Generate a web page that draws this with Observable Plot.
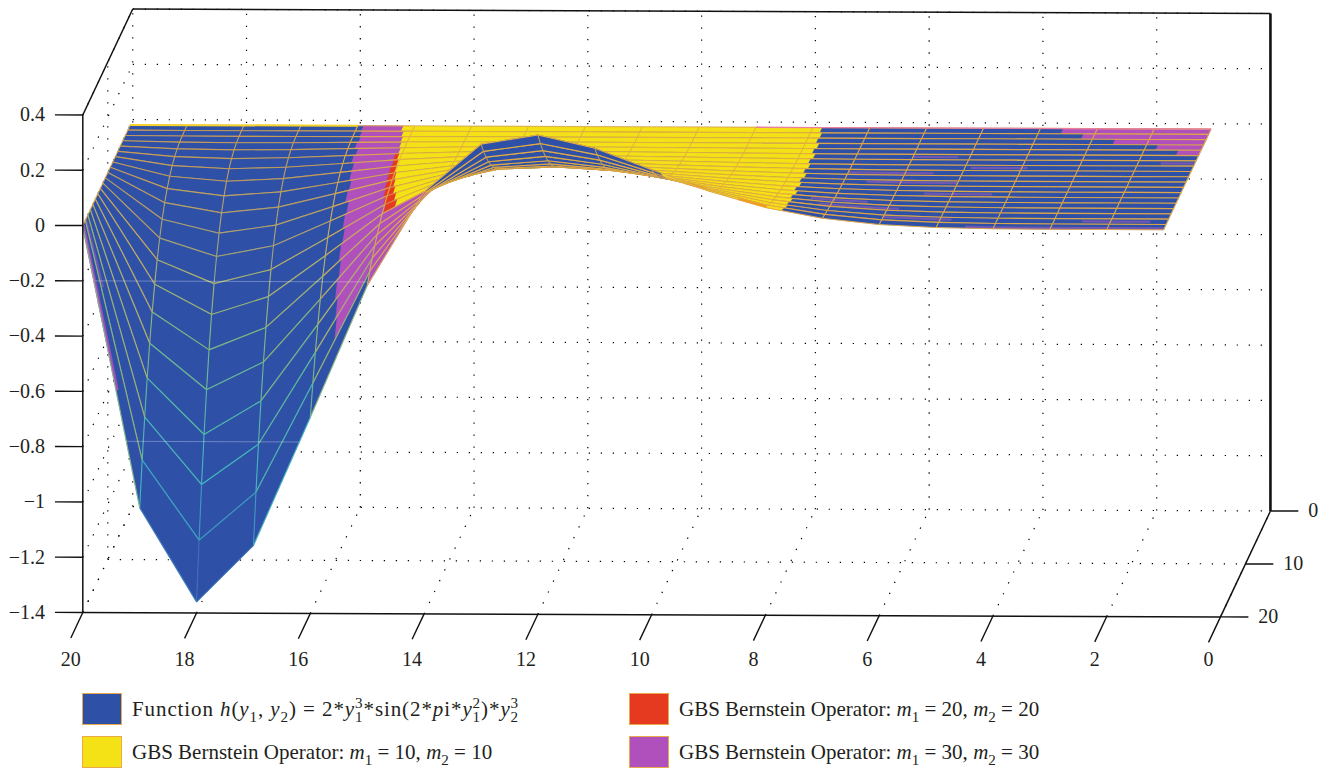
<!DOCTYPE html>
<html><head><meta charset="utf-8">
<script src="https://cdn.jsdelivr.net/npm/d3@7"></script>
<script src="https://cdn.jsdelivr.net/npm/@observablehq/plot@0.6"></script>
<style>
html,body{margin:0;padding:0;background:#fff;overflow:hidden}
#page{position:relative;width:1332px;height:769px;font-family:"Liberation Serif",serif;color:#231f20}
.sw{position:absolute;width:38px;height:30px;border:1.5px solid #e8a94a}
.lb{position:absolute;font-size:21px;line-height:32px;white-space:nowrap}
.lb i{font-style:italic}
.lb sub{font-size:.72em;line-height:0;vertical-align:-.4em}
.ss{display:inline-block;vertical-align:middle;font-size:.72em;line-height:.95;text-align:left;margin-top:-2px}
.ss span{display:block}
</style></head><body><div id="page"></div>
<script>
// values
const xTicks = [20,18,16,14,12,10,8,6,4,2,0];
const yTicks = [0,10,20];
const zTicks = [0.4,0.2,0,-0.2,-0.4,-0.6,-0.8,-1,-1.2,-1.4];
const zLabels = ["0.4","0.2","0","−0.2","−0.4","−0.6","−0.8","−1","−1.2","−1.4"];
// surface height along the front edge, for grid columns 1..20
const frontHeight = [0,0,0.0002,0.0012,0.005,0.015,0.037,0.075,0.134,0.21,0.287,0.334,0.30,0.127,-0.213,-0.69,-1.155,-1.36,-1.02,0];
// share of that height kept on grid rows 1..20, back to front
const depthShare = [0,0.0002,0.0012,0.004,0.009,0.018,0.031,0.05,0.075,0.106,0.146,0.194,0.252,0.32,0.40,0.492,0.597,0.716,0.85,1];
// where the visible colour changes, per row 1..19
const purpleFrom = [15.9,15.88,15.86,15.88,15.82,15.85,15.8,15.8,15.76,15.78,15.72,15.74,15.7,15.72,15.68,15.7,15.65,15.62,15.0];
const yellowFrom = [15.2,15.15,15.12,15.1,15.07,15.05,15.02,15.0,14.97,14.94,14.9,14.84,14.78,14,14,14,14,14,14];
const redWidth   = [0,0,0,0,0,0.07,0.08,0.11,0.13,0.15,0.17,0.19,0.2,0,0,0,0,0,0];
const yellowTo   = [7.84,7.8,7.82,7.76,7.8,7.74,7.78,7.74,7.78,7.72,7.76,7.72,7.76,7.7,7.74,7.7,7.72,7.7,7.72];
// front part of the hump stays blue: [high column, low column, first row]
const humpBlue = [[14,13,14],[13,12,13],[12,11,13],[11,10,15],[10,9.85,16]];
// solid faces that show through at the back right corner: [row, from column, to column]
const purpleCorner = [[1,3.6,1],[2,3.2,1],[3,2.6,1],[4,1.8,1],[5,1.4,1]];
// soft streaks along a row: [row, from column, to column, colour key, width, position across the row]
const streaks = [[19,20,19.4,"m30",3,0.85],[18,20,19.7,"mix",2,0.7],[7,1.6,1,"mix",2.5,0.5],
 [6,6,5.2,"mix",2.2,0.5],[8,4.9,3.9,"mix",2.2,0.5],[9,7,5.5,"mix",2.2,0.6],[11,6.6,5,"mix",2.2,0.4],[13,5.5,4.3,"mix",2.2,0.5],
 [15,7.4,6.4,"mix",2.2,0.5],[16,7.2,5.8,"mix",2.2,0.6],[18,6,4.8,"mix",2.2,0.4],[19,4.5,1,"mix",2.5,0.75],[18,2.5,1.3,"mix",2.2,0.5],
 [18,9.5,9.1,"amber",2.4,0.5],[19,8.5,8.0,"amber",2.4,0.5]];
const faceColors = {fn:"#2f50a7",m10:"#f4e116",m20:"#e53a20",m30:"#b050bc",mix:"#7a58b6",amber:"#f08a20"};
const edgeZ = [-1.4,-1.15,-0.95,-0.7,-0.45,-0.2,0.05,0.35];
const edgeHue = ["#3558ad","#3d86bb","#3fbcc6","#58c0a0","#90bd78","#c9b562","#f3ab3a","#f6b83c"];
const legendColors = ["#2f50a7","#f4e116","#e53a20","#b050bc"];

// oblique view: depth along y shifts a point along the x and z scales
const skewX = 0.0439, skewZ = 0.01917, tiltZ = 0.0008;
const P = (x,y,z) => ({u: x-(20-y)*skewX, v: z+(20-y)*skewZ-(20-x)*tiltZ});
const lerp = (arr,x) => {const i=Math.min(Math.floor(x),arr.length-1), t=x-i;
  return i>=arr.length ? arr[arr.length-1] : arr[i-1]+(t?(arr[i]-arr[i-1])*t:0)};
const share = y => {const k=Math.min(Math.floor(y),19); return depthShare[k-1]+(depthShare[k]-depthShare[k-1])*(y-k)};
const height = (x,y) => lerp(frontHeight,x)*share(y);
const S = (x,y) => P(x,y,height(x,y));
const seg = (a,b,extra={}) => ({u1:a.u,v1:a.v,u2:b.u,v2:b.v,...extra});
const inYellow = (x,m) => x<yellowFrom[m] && x>yellowTo[m] && !humpBlue.some(([hi,lo,first])=>x<hi&&x>lo&&m+1>=first);
const edgeAlpha = (x,m) => inYellow(x,m) ? 0.62 : (x>16 && m<12 ? 0.72 : 0.88);

// faces and edges of one row
let polyId = 0;
function rowFaces(j){
  const m=j-1, out=[];
  const bands=[[20,1,"fn"],[purpleFrom[m],yellowFrom[m],"m30"]];
  if(redWidth[m]>0) bands.push([yellowFrom[m]+redWidth[m],yellowFrom[m],"m20"]);
  bands.push([yellowFrom[m],yellowTo[m],"m10"]);
  for(const [hi,lo,first] of humpBlue) if(j>=first) bands.push([hi,lo,"fn"]);
  for(const [r,hi,lo] of purpleCorner) if(r===j) bands.push([hi,lo,"m30"]);
  for(const [hi,lo,f] of bands){
    for(let c=Math.ceil(hi)-1;c>=Math.floor(lo);c--){
      const a=Math.min(hi,c+1), b=Math.max(lo,c);
      if(a<=b) continue;
      const id=polyId++, hue=faceColors[f];
      for(const p of [S(a,j),S(b,j),S(b,j+1),S(a,j+1)]) out.push({...p,id,hue});
    }
  }
  return out;
}
function rowStreaks(j){
  const out=[];
  for(const [r,hi,lo,key,w,at] of streaks) if(r===j){
    for(let c=Math.ceil(hi)-1;c>=Math.floor(lo);c--){
      const a=Math.min(hi,c+1), b=Math.max(lo,c);
      if(a>b) out.push(seg(S(a,j+at),S(b,j+at),{c:faceColors[key],w}));
    }
  }
  return out;
}
function rowEdges(j){
  const out=[], m=j-1;
  for(let x=1;x<=20;x++){
    out.push(seg(S(x,j),S(x,j+1),{zm:(height(x,j)+height(x,j+1))/2,op:edgeAlpha(x,m)}));
    if(x<20){
      const op=edgeAlpha(x+0.5,m);
      out.push(seg(S(x,j),S(x+1,j),{zm:(height(x,j)+height(x+1,j))/2,op}));
      out.push(seg(S(x,j+1),S(x+1,j+1),{zm:(height(x,j+1)+height(x+1,j+1))/2,op}));
    }
  }
  return out;
}

// frame, ticks and dotted grid
const zMin=-1.4, zMax=0.4;
const frame=[
  seg(P(20,20,zMin),P(0,20,zMin),{w:1.5}),
  seg(P(20,20,zMin),P(20,20,zMax),{w:1.5}),
  seg(P(20,20,zMax),P(20,0,zMax),{w:1.5}),
  seg(P(20,0,zMax),P(0,0,zMax),{w:1.5}),
  seg(P(0,0,zMax),P(0,0,zMin),{w:2.6}),
  seg(P(0,20,zMin),P(0,0,zMin),{w:1.5})
];
const dotted=[];
for(const z of zTicks){ dotted.push(seg(P(20,0,z),P(0,0,z))); dotted.push(seg(P(20,20,z),P(20,0,z))); }
for(const x of xTicks){ dotted.push(seg(P(x,0,zMin),P(x,0,zMax))); dotted.push(seg(P(x,20,zMin),P(x,0,zMin))); }
dotted.push(seg(P(20,10,zMin),P(20,10,zMax)));
dotted.push(seg(P(20,10,zMin),P(0,10,zMin)));

const zTickSegs=zTicks.map(z=>seg(P(20,20,z),P(20.49,20,z)));
const yTickSegs=yTicks.map(y=>seg(P(0,y,zMin),P(-0.49,y,zMin)));
const xTickSegs=xTicks.map(x=>seg(P(x,20,zMin),P(x,24.8,zMin)));
const zText=zTicks.map((z,i)=>({...P(20.49,20,z),t:zLabels[i]}));
const yText=yTicks.map(y=>({...P(-0.49,y,zMin),t:String(y)}));
const xText=xTicks.map(x=>({u:P(x,24.8,zMin).u,v:zMin-0.171,t:String(x)}));

// stripes and faint lines on the surface
const stripes=[
  {...seg(S(20,1),S(16,1)),c:"#f6d32a",w:2},
  {...seg(S(9,1),S(1,1)),c:"#ea7fa0",w:1.4}
];
const faint=[seg(P(19.78,20,-0.2),P(15,20,-0.2)),seg(P(19.3,20,-0.78),P(16.2,20,-0.78))];

const L={x1:"u1",y1:"v1",x2:"u2",y2:"v2"};
const marks=[
  Plot.link(dotted,{...L,stroke:"#000",strokeWidth:1.2,strokeDasharray:"1.3 10.7"})
];
for(let j=1;j<=19;j++){
  marks.push(Plot.line(rowFaces(j),{x:"u",y:"v",z:"id",fill:{value:"hue",scale:null},stroke:{value:"hue",scale:null},strokeWidth:0.4}));
  marks.push(Plot.link(rowStreaks(j),{...L,stroke:{value:"c",scale:null},strokeWidth:"w",strokeOpacity:0.85}));
  marks.push(Plot.link(rowEdges(j),{...L,stroke:"zm",strokeWidth:1.15,strokeOpacity:"op"}));
}
marks.push(
  Plot.link(stripes,{...L,stroke:{value:"c",scale:null},strokeWidth:"w"}),
  Plot.link(faint,{...L,stroke:"#fff",strokeOpacity:0.3,strokeWidth:1}),
  Plot.link(frame,{...L,stroke:"#111",strokeWidth:"w"}),
  Plot.link(zTickSegs,{...L,stroke:"#111",strokeWidth:1.4}),
  Plot.link(yTickSegs,{...L,stroke:"#111",strokeWidth:1.4}),
  Plot.link(xTickSegs,{...L,stroke:"#111",strokeWidth:1.4}),
  Plot.text(zText,{x:"u",y:"v",text:"t",textAnchor:"end",dx:-10,fontSize:20,fill:"#231f20"}),
  Plot.text(yText,{x:"u",y:"v",text:"t",textAnchor:"start",dx:10,fontSize:20,fill:"#231f20"}),
  Plot.text(xText,{x:"u",y:"v",text:"t",textAnchor:"middle",fontSize:20,fill:"#231f20"})
);

const chart=Plot.plot({
  width:1332,height:680,margin:0,
  style:{fontFamily:"'Liberation Serif',serif",background:"#fff",overflow:"visible"},
  x:{domain:[20,0],range:[82.3,1220],axis:null},
  y:{domain:[-1.4,0.4],range:[612,114.5],axis:null},
  color:{type:"linear",domain:edgeZ,range:edgeHue},
  opacity:{type:"identity"},
  marks
});
const page=document.getElementById("page");
page.appendChild(chart);

// legend below the plot
const stack=(a,b)=>`<span class="ss"><span>${a}</span><span>${b}</span></span>`;
const op=(a,b)=>`GBS Bernstein Operator: <i>m</i><sub>1</sub> = ${a}, <i>m</i><sub>2</sub> = ${b}`;
const legendRows=[
  {x:82,y:693,ls:"0.9px",t:`Function <i>h</i>(<i>y</i><sub>1</sub>, <i>y</i><sub>2</sub>) = 2*<i>y</i>${stack("3","1")}*sin(2*<i>p</i>i*<i>y</i>${stack("2","1")})*<i>y</i>${stack("3","2")}`},
  {x:82,y:736,ls:"0",t:op(10,10)},
  {x:629,y:693,ls:"0",t:op(20,20)},
  {x:629,y:736,ls:"0",t:op(30,30)}
];
legendRows.forEach((r,i)=>{
  const s=document.createElement("div");s.className="sw";
  s.style.cssText=`left:${r.x}px;top:${r.y}px;background:${legendColors[i]}`;
  const l=document.createElement("div");l.className="lb";
  l.style.cssText=`left:${r.x+50}px;top:${r.y}px;letter-spacing:${r.ls}`;
  l.innerHTML=r.t;
  page.append(s,l);
});
</script></body></html>
